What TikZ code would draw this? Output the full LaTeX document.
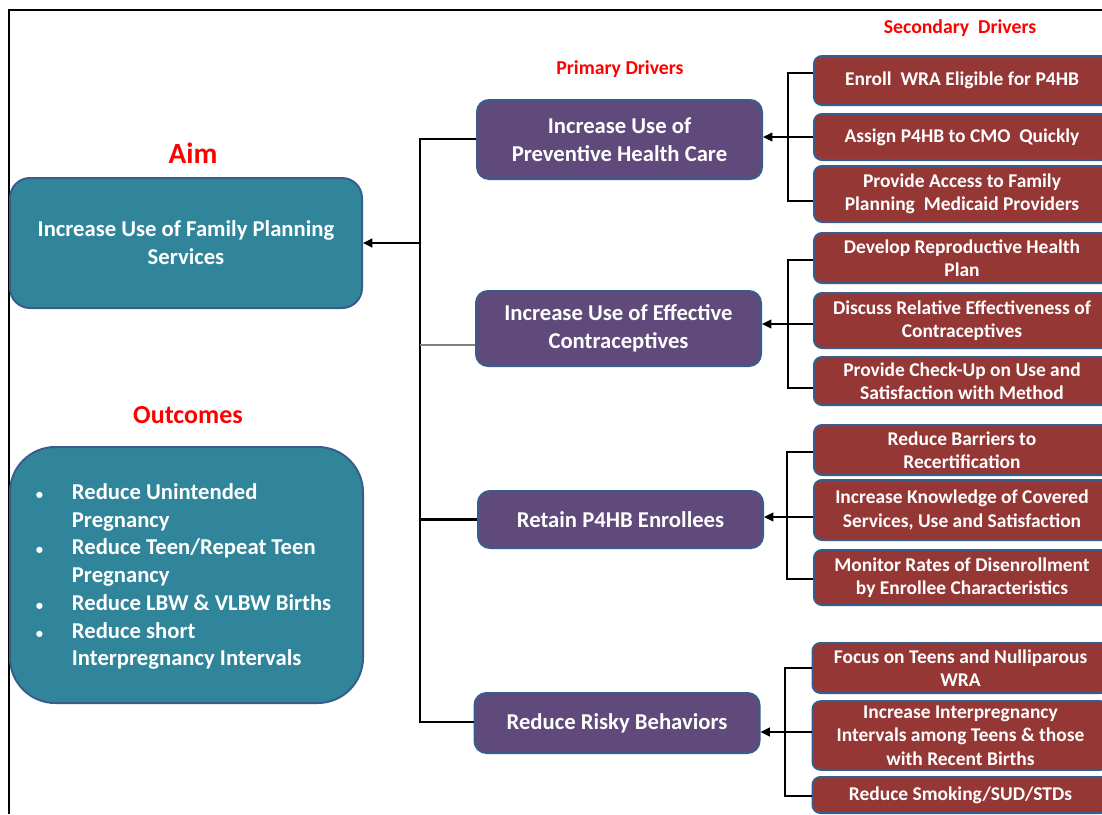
\documentclass[tikz,border=0pt]{standalone}
\usepackage{fontspec}
\setmainfont{Carlito}
\usetikzlibrary{arrows.meta}

\definecolor{aimteal}{RGB}{49,133,155}
\definecolor{edgeblue}{RGB}{56,93,138}
\definecolor{pdpurple}{RGB}{96,74,123}
\definecolor{sdred}{RGB}{149,55,53}

\newcommand{\smbul}{\hspace*{2pt}{\fontsize{11}{11}\selectfont •}}

\tikzset{
  aimbox/.style={draw=edgeblue, line width=1.5pt, fill=aimteal, text=white, align=center, inner sep=0pt},
  primbox/.style={draw=edgeblue, line width=1.5pt, fill=pdpurple, text=white, align=center, rounded corners=9pt,
    minimum width=213.75pt, font=\fontsize{17}{21}\selectfont\bfseries},
  secbox/.style={draw=edgeblue, line width=1.5pt, fill=sdred, text=white, align=center, rounded corners=6pt,
    minimum width=222pt, font=\fontsize{14.6}{17.6}\selectfont\bfseries},
  heading/.style={text=red, font=\bfseries},
  trunk/.style={line width=1.8pt},
  brk/.style={line width=1pt},
  arr/.style={line width=1.5pt, -{Triangle[length=7pt,width=6.5pt]}}
}

\begin{document}
\begin{tikzpicture}[x=0.75pt,y=-0.75pt]
\useasboundingbox (0,0) rectangle (1102,814);
\draw[line width=0.8pt] (9,814) -- (9,10) -- (1102,10);

% aim and outcomes
\node[heading, font=\fontsize{22}{26}\selectfont\bfseries] (aimlbl) at (193,153) {Aim};
\node[aimbox, rounded corners=15pt, minimum width=264pt, minimum height=97.5pt,
  font=\fontsize{17}{21}\selectfont\bfseries] (aim) at (186,243) {Increase Use of Family Planning\\Services};
\node[heading, font=\fontsize{19.5}{23}\selectfont\bfseries] (outlbl) at (188,415) {Outcomes};
\node[aimbox, rounded corners=34pt, minimum width=264.75pt, minimum height=192pt] (outc) at (186.5,575) {};
\node[anchor=west, inner sep=0pt, text=white, font=\fontsize{17}{20.8}\selectfont\bfseries] (outlist) at (33,577)
  {\begin{tabular}{@{}p{29pt}@{}l@{}}
   \smbul & Reduce Unintended\\
     & Pregnancy\\
   \smbul & Reduce Teen/Repeat Teen\\
     & Pregnancy\\
   \smbul & Reduce LBW \& VLBW Births\\
   \smbul & Reduce short\\
     & Interpregnancy Intervals
   \end{tabular}};

% primary drivers
\node[heading, font=\fontsize{14.8}{18}\selectfont\bfseries] (primlbl) at (620,69) {Primary Drivers};
\node[primbox, minimum height=59.25pt] (p1) at (619.5,139.5) {Increase Use of\\Preventive Health Care};
\node[primbox, minimum height=56.25pt] (p2) at (618.5,328.5) {Increase Use of Effective\\Contraceptives};
\node[primbox, minimum height=42.75pt] (p3) at (620.5,519.5) {Retain P4HB Enrollees};
\node[primbox, minimum height=45pt] (p4) at (617,723) {Reduce Risky Behaviors};

% secondary drivers
\node[heading, font=\fontsize{14.8}{18}\selectfont\bfseries] (seclbl) at (960,28) {Secondary~ Drivers};
\node[secbox, minimum height=36.75pt] (s1) at (962,80.5) {Enroll~ WRA Eligible for P4HB};
\node[secbox, minimum height=34.5pt] (s2) at (962,137) {Assign P4HB to CMO~ Quickly};
\node[secbox, minimum height=42pt] (s3) at (962,194) {Provide Access to Family\\Planning~ Medicaid Providers};
\node[secbox, minimum height=37.5pt] (s4) at (962,258) {Develop Reproductive Health\\Plan};
\node[secbox, minimum height=41.25pt] (s5) at (962,320.5) {Discuss Relative Effectiveness of\\Contraceptives};
\node[secbox, minimum height=36pt] (s6) at (962,381) {Provide Check-Up on Use and\\Satisfaction with Method};
\node[secbox, minimum height=37.5pt] (s7) at (962,450) {Reduce Barriers to\\Recertification};
\node[secbox, minimum height=45pt] (s8) at (962,510) {Increase Knowledge of Covered\\Services, Use and Satisfaction};
\node[secbox, minimum height=41.25pt] (s9) at (962,577.5) {Monitor Rates of Disenrollment\\by Enrollee Characteristics};
\node[secbox, minimum height=37.5pt] (s10) at (960.5,668) {Focus on Teens and Nulliparous\\WRA};
\node[secbox, minimum height=48.75pt] (s11) at (960.5,735.5) {Increase Interpregnancy\\Intervals among Teens \& those\\with Recent Births};
\node[secbox, minimum height=27pt] (s12) at (960.5,795) {Reduce Smoking/SUD/STDs};

% trunk to aim
\coordinate (t1) at (420,139);
\coordinate (t4) at (420,722);
\draw[trunk] (p1.west |- t1) -- (t1) -- (t4) -- (p4.west |- t4);
\draw[trunk] (t1 |- p3.west) -- (p3.west);
\draw[trunk, -{Triangle[length=7pt,width=6.5pt]}] (t1 |- aim.east) -- (aim.east);
\draw[gray, line width=0.8pt] (t1 |- 0,345) -- (p2.west |- 0,345);

% brackets
\coordinate (b1t) at (788,73);  \coordinate (b1b) at (788,201);
\coordinate (b2t) at (788,260); \coordinate (b2b) at (788,388);
\coordinate (b3t) at (787,452); \coordinate (b3b) at (787,579);
\coordinate (b4t) at (785,668); \coordinate (b4b) at (785,796);
\draw[brk] (s1.west |- b1t) -- (b1t) -- (b1b) -- (s3.west |- b1b);
\draw[brk] (s4.west |- b2t) -- (b2t) -- (b2b) -- (s6.west |- b2b);
\draw[brk] (s7.west |- b3t) -- (b3t) -- (b3b) -- (s9.west |- b3b);
\draw[brk] (s10.west |- b4t) -- (b4t) -- (b4b) -- (s12.west |- b4b);
\draw[arr] (s2.west) -- (s2.west -| p1.east);
\draw[arr] (s5.west |- 0,324) -- (p2.east |- 0,324);
\draw[arr] (s8.west |- 0,517) -- (p3.east |- 0,517);
\draw[arr] (s11.west |- 0,732) -- (p4.east |- 0,732);
\end{tikzpicture}
\end{document}
